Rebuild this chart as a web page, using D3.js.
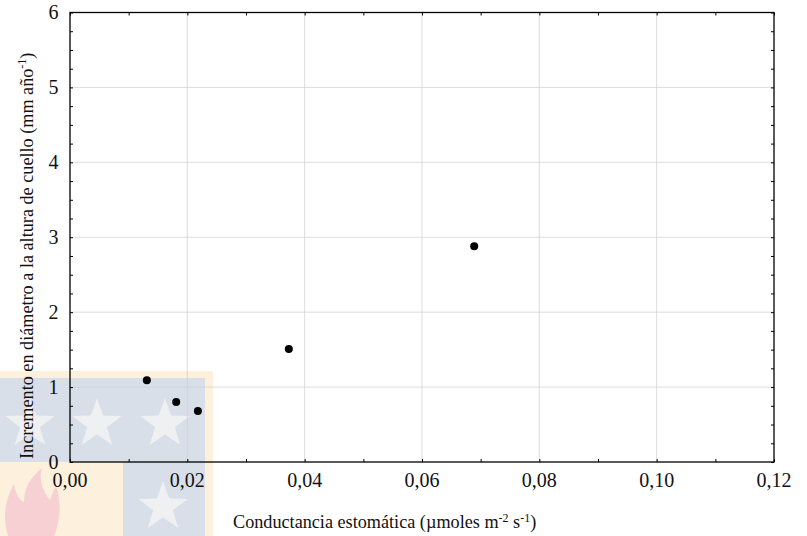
<!DOCTYPE html>
<html>
<head>
<meta charset="utf-8">
<script src="https://cdn.jsdelivr.net/npm/d3@7/dist/d3.min.js"></script>
<style>
  html, body { margin: 0; padding: 0; background: #fff; }
  svg { display: block; }
</style>
</head>
<body>
<svg id="chart" width="807" height="536"></svg>
<script>
// Stomatal conductance vs. stem diameter increment at root collar
const conductance = [0.0131, 0.0181, 0.0218, 0.0373, 0.0689];
const increment   = [1.09, 0.80, 0.68, 1.51, 2.88];

const xTicks = [0, 0.02, 0.04, 0.06, 0.08, 0.10, 0.12];
const yTicks = [0, 1, 2, 3, 4, 5, 6];

const W = 807, H = 536;
const m = { left: 70, right: 33, top: 12.5, bottom: 74 };
const SERIF = "'Liberation Serif', 'DejaVu Serif', 'Times New Roman', serif";
const svg = d3.select("#chart").attr("font-family", SERIF);

const x = d3.scaleLinear().domain([0, 0.12]).range([m.left, W - m.right]);
const y = d3.scaleLinear().domain([0, 6]).range([H - m.bottom, m.top]);

// Faint emblem in the lower-left corner of the page
function starPath(cx, cy, R) {
  const r = R * 0.4, pts = [];
  for (let i = 0; i < 10; i++) {
    const a = -Math.PI / 2 + i * Math.PI / 5;
    const rad = i % 2 === 0 ? R : r;
    pts.push([cx + rad * Math.cos(a), cy + rad * Math.sin(a)]);
  }
  return "M" + pts.map(p => p.join(",")).join("L") + "Z";
}
const emb = svg.append("g");
emb.append("rect").attr("x", 0).attr("y", 371).attr("width", 213).attr("height", 165).attr("fill", "#fdf0dc");
emb.append("rect").attr("x", 0).attr("y", 378).attr("width", 205).attr("height", 84).attr("fill", "#d8dfe9");
emb.append("rect").attr("x", 123).attr("y", 462).attr("width", 82).attr("height", 74).attr("fill", "#d8dfe9");
[[30, 424], [97, 424], [165, 424], [163, 507]].forEach(([cx, cy]) => {
  emb.append("path").attr("d", starPath(cx, cy, 26)).attr("fill", "#eef0f2");
});
emb.append("path")
  .attr("d", "M8,536 C2,515 6,498 14,484 C16,496 20,500 24,502 C24,488 30,478 42,468 C38,482 44,492 50,500 C52,494 54,490 56,486 C62,502 60,522 54,536 Z")
  .attr("fill", "#f7d0d4");

// Gridlines
const grid = svg.append("g").attr("stroke", "#cfcfcf").attr("stroke-opacity", 0.7).attr("stroke-width", 1);
xTicks.slice(1, -1).forEach(v => grid.append("line")
  .attr("x1", x(v)).attr("x2", x(v)).attr("y1", y(0)).attr("y2", y(6)));
yTicks.slice(1, -1).forEach(v => grid.append("line")
  .attr("x1", x(0)).attr("x2", x(0.12)).attr("y1", y(v)).attr("y2", y(v)));

// Inward ticks on all four sides
const fmt = d => d3.format(".2f")(d).replace(".", ",");
const minorX = d3.range(0, 0.1201, 0.01);
const minorY = d3.range(0, 6.01, 0.25);

svg.append("g").attr("transform", `translate(0,${y(0)})`)
  .call(d3.axisBottom(x).tickValues(minorX).tickSize(-3).tickFormat(""))
  .call(g => g.select(".domain").remove());
svg.append("g").attr("transform", `translate(0,${y(6)})`)
  .call(d3.axisTop(x).tickValues(minorX).tickSize(-3).tickFormat(""))
  .call(g => g.select(".domain").remove());
svg.append("g").attr("transform", `translate(${x(0)},0)`)
  .call(d3.axisLeft(y).tickValues(minorY).tickSize(-3).tickFormat(""))
  .call(g => g.select(".domain").remove());
svg.append("g").attr("transform", `translate(${x(0.12)},0)`)
  .call(d3.axisRight(y).tickValues(minorY).tickSize(-3).tickFormat(""))
  .call(g => g.select(".domain").remove());

// Frame
svg.append("rect")
  .attr("x", x(0)).attr("y", y(6))
  .attr("width", x(0.12) - x(0)).attr("height", y(0) - y(6))
  .attr("fill", "none").attr("stroke", "#000").attr("stroke-width", 1.3);

// Tick labels
svg.append("g").selectAll("text").data(xTicks).join("text")
  .attr("font-family", SERIF).attr("fill", "#111")
  .attr("x", d => x(d)).attr("y", 487)
  .attr("text-anchor", "middle").attr("font-size", 20)
  .text(fmt);
svg.append("g").selectAll("text").data(yTicks).join("text")
  .attr("font-family", SERIF).attr("fill", "#111")
  .attr("x", 58.5).attr("y", d => y(d)).attr("dy", "0.33em")
  .attr("text-anchor", "end").attr("font-size", 20)
  .text(d => d);

// Points
svg.append("g").selectAll("circle").data(conductance).join("circle")
  .attr("cx", d => x(d)).attr("cy", (d, i) => y(increment[i]))
  .attr("r", 4).attr("fill", "#000");

// Axis titles
const xt = svg.append("text").attr("font-family", SERIF).attr("fill", "#111")
  .attr("x", 233).attr("y", 528).attr("font-size", 18.2);
xt.append("tspan").text("Conductancia estomática (µmoles m");
xt.append("tspan").attr("dy", -6.5).attr("font-size", 12).text("-2");
xt.append("tspan").attr("dy", 6.5).text(" s");
xt.append("tspan").attr("dy", -6.5).attr("font-size", 12).text("-1");
xt.append("tspan").attr("dy", 6.5).text(")");

const yt = svg.append("text").attr("font-family", SERIF).attr("fill", "#111")
  .attr("transform", "translate(32.5,459) rotate(-90)")
  .attr("font-size", 18.2);
yt.append("tspan").text("Incremento en diámetro a la altura de cuello (mm año");
yt.append("tspan").attr("dy", -6.5).attr("font-size", 12).text("-1");
yt.append("tspan").attr("dy", 6.5).text(")");
</script>
</body>
</html>
